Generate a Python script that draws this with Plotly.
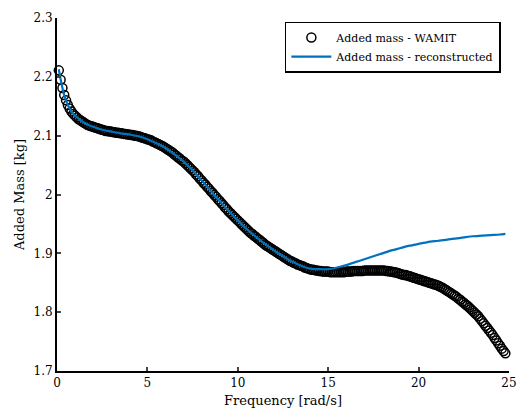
import plotly.graph_objects as go

# WAMIT added mass (open circles), frequency in rad/s
freq_wamit = [
    0.1, 0.2, 0.3, 0.4, 0.5, 0.6, 0.7, 0.8, 0.9, 1.0,
    1.1, 1.2, 1.3, 1.4, 1.5, 1.6, 1.7, 1.8, 1.9, 2.0,
    2.1, 2.2, 2.3, 2.4, 2.5, 2.6, 2.7, 2.8, 2.9, 3.0,
    3.1, 3.2, 3.3, 3.4, 3.5, 3.6, 3.7, 3.8, 3.9, 4.0,
    4.1, 4.2, 4.3, 4.4, 4.5, 4.6, 4.7, 4.8, 4.9, 5.0,
    5.1, 5.2, 5.3, 5.4, 5.5, 5.6, 5.7, 5.8, 5.9, 6.0,
    6.1, 6.2, 6.3, 6.4, 6.5, 6.6, 6.7, 6.8, 6.9, 7.0,
    7.1, 7.2, 7.3, 7.4, 7.5, 7.6, 7.7, 7.8, 7.9, 8.0,
    8.1, 8.2, 8.3, 8.4, 8.5, 8.6, 8.7, 8.8, 8.9, 9.0,
    9.1, 9.2, 9.3, 9.4, 9.5, 9.6, 9.7, 9.8, 9.9, 10.0,
    10.1, 10.2, 10.3, 10.4, 10.5, 10.6, 10.7, 10.8, 10.9, 11.0,
    11.1, 11.2, 11.3, 11.4, 11.5, 11.6, 11.7, 11.8, 11.9, 12.0,
    12.1, 12.2, 12.3, 12.4, 12.5, 12.6, 12.7, 12.8, 12.9, 13.0,
    13.1, 13.2, 13.3, 13.4, 13.5, 13.6, 13.7, 13.8, 13.9, 14.0,
    14.1, 14.2, 14.3, 14.4, 14.5, 14.6, 14.7, 14.8, 14.9, 15.0,
    15.1, 15.2, 15.3, 15.4, 15.5, 15.6, 15.7, 15.8, 15.9, 16.0,
    16.1, 16.2, 16.3, 16.4, 16.5, 16.6, 16.7, 16.8, 16.9, 17.0,
    17.1, 17.2, 17.3, 17.4, 17.5, 17.6, 17.7, 17.8, 17.9, 18.0,
    18.1, 18.2, 18.3, 18.4, 18.5, 18.6, 18.7, 18.8, 18.9, 19.0,
    19.1, 19.2, 19.3, 19.4, 19.5, 19.6, 19.7, 19.8, 19.9, 20.0,
    20.1, 20.2, 20.3, 20.4, 20.5, 20.6, 20.7, 20.8, 20.9, 21.0,
    21.1, 21.2, 21.3, 21.4, 21.5, 21.6, 21.7, 21.8, 21.9, 22.0,
    22.1, 22.2, 22.3, 22.4, 22.5, 22.6, 22.7, 22.8, 22.9, 23.0,
    23.1, 23.2, 23.3, 23.4, 23.5, 23.6, 23.7, 23.8, 23.9, 24.0,
    24.1, 24.2, 24.3, 24.4, 24.5, 24.6, 24.7, 24.8,
]
mass_wamit = [
    2.211, 2.195, 2.181, 2.169, 2.160, 2.152, 2.146, 2.141, 2.137, 2.134,
    2.131, 2.128, 2.126, 2.124, 2.122, 2.120, 2.118, 2.117, 2.116, 2.115,
    2.114, 2.113, 2.112, 2.111, 2.110, 2.109, 2.108, 2.108, 2.107, 2.107,
    2.106, 2.106, 2.105, 2.105, 2.104, 2.104, 2.103, 2.103, 2.102, 2.102,
    2.101, 2.101, 2.100, 2.100, 2.099, 2.098, 2.097, 2.096, 2.095, 2.094,
    2.093, 2.092, 2.090, 2.089, 2.087, 2.086, 2.084, 2.083, 2.081, 2.079,
    2.077, 2.075, 2.073, 2.071, 2.068, 2.066, 2.063, 2.061, 2.058, 2.056,
    2.053, 2.050, 2.047, 2.044, 2.041, 2.038, 2.034, 2.031, 2.027, 2.024,
    2.020, 2.017, 2.013, 2.010, 2.006, 2.003, 1.999, 1.996, 1.992, 1.989,
    1.985, 1.982, 1.978, 1.975, 1.971, 1.968, 1.965, 1.962, 1.959, 1.956,
    1.953, 1.950, 1.947, 1.944, 1.941, 1.938, 1.935, 1.933, 1.930, 1.928,
    1.925, 1.923, 1.920, 1.918, 1.915, 1.913, 1.911, 1.909, 1.907, 1.905,
    1.903, 1.901, 1.899, 1.897, 1.895, 1.893, 1.891, 1.889, 1.887, 1.886,
    1.884, 1.883, 1.881, 1.880, 1.879, 1.878, 1.876, 1.875, 1.874, 1.873,
    1.872, 1.872, 1.871, 1.871, 1.870, 1.870, 1.869, 1.869, 1.869, 1.869,
    1.868, 1.868, 1.868, 1.868, 1.868, 1.868, 1.868, 1.868, 1.868, 1.869,
    1.869, 1.869, 1.869, 1.870, 1.870, 1.870, 1.870, 1.870, 1.870, 1.871,
    1.871, 1.871, 1.871, 1.871, 1.871, 1.871, 1.871, 1.871, 1.871, 1.871,
    1.871, 1.870, 1.870, 1.869, 1.869, 1.868, 1.868, 1.867, 1.866, 1.865,
    1.864, 1.863, 1.863, 1.862, 1.861, 1.860, 1.859, 1.858, 1.857, 1.856,
    1.855, 1.854, 1.853, 1.852, 1.851, 1.850, 1.849, 1.848, 1.847, 1.846,
    1.845, 1.843, 1.842, 1.840, 1.838, 1.836, 1.834, 1.832, 1.830, 1.828,
    1.826, 1.823, 1.821, 1.818, 1.816, 1.813, 1.811, 1.808, 1.805, 1.802,
    1.799, 1.796, 1.793, 1.789, 1.785, 1.781, 1.777, 1.773, 1.769, 1.765,
    1.761, 1.756, 1.752, 1.747, 1.743, 1.738, 1.734, 1.730,
]

# Reconstructed added mass (line)
freq_recon = [0.1, 0.2, 0.3, 0.4, 0.6, 0.8, 1.0, 1.5, 2.0, 2.5, 3.0, 3.5, 4.0, 4.5,
              5.0, 5.5, 6.0, 6.5, 7.0, 7.5, 8.0, 8.5, 9.0, 9.5, 10.0, 10.5,
              11.0, 11.5, 12.0, 12.5, 13.0, 13.5, 14.0, 14.5, 15.0, 15.5,
              16.0, 16.5, 17.0, 17.5, 18.0, 18.5, 19.0, 19.5, 20.0, 20.5,
              21.0, 21.5, 22.0, 22.5, 23.0, 23.5, 24.0, 24.5, 24.8]
mass_recon = [2.213, 2.196, 2.181, 2.169, 2.152, 2.141, 2.134, 2.122, 2.115, 2.110,
              2.107, 2.104, 2.102, 2.099, 2.094, 2.087, 2.079, 2.068, 2.056, 2.041,
              2.024, 2.006, 1.989, 1.972, 1.956, 1.941, 1.928, 1.916, 1.905, 1.895,
              1.886, 1.879, 1.874, 1.873, 1.873, 1.876, 1.880, 1.885, 1.890, 1.895,
              1.900, 1.905, 1.909, 1.913, 1.916, 1.919, 1.921, 1.923, 1.925, 1.927,
              1.929, 1.930, 1.931, 1.932, 1.933]

x_ticks = [0, 5, 10, 15, 20, 25]
y_ticks = [1.7, 1.8, 1.9, 2.0, 2.1, 2.2, 2.3]
y_tick_text = ["1.7", "1.8", "1.9", "2", "2.1", "2.2", "2.3"]

FONT = "DejaVu Serif"

fig = go.Figure()
fig.add_trace(go.Scatter(
    x=freq_wamit, y=mass_wamit, mode="markers", name="Added mass - WAMIT",
    marker=dict(symbol="circle-open", size=9, color="black", line=dict(width=1.5, color="black")),
    cliponaxis=False,
))
fig.add_trace(go.Scatter(
    x=freq_recon, y=mass_recon, mode="lines", name="Added mass - reconstructed",
    line=dict(color="#0072BD", width=2.2, shape="spline", smoothing=0.6),
    cliponaxis=False,
))

fig.update_layout(
    width=528, height=418,
    margin=dict(l=57, r=15, t=11, b=47),
    plot_bgcolor="white", paper_bgcolor="white",
    font=dict(family=FONT, size=12, color="black"),
    showlegend=True,
    legend=dict(
        x=0.982, y=0.99, xanchor="right", yanchor="top",
        bgcolor="white", bordercolor="black", borderwidth=1.5,
        font=dict(family=FONT, size=11, color="black"),
        tracegroupgap=0, itemwidth=40,
    ),
)
fig.update_xaxes(
    range=[0, 25], tickvals=x_ticks, ticks="inside", ticklen=4, tickwidth=2,
    showline=True, linecolor="black", linewidth=2, showgrid=False, zeroline=False,
    title=dict(text="Frequency [rad/s]", font=dict(size=13), standoff=6),
    tickfont=dict(size=12),
)
fig.update_yaxes(
    range=[1.7, 2.3], tickvals=y_ticks, ticktext=y_tick_text, ticks="inside", ticklen=4, tickwidth=2,
    showline=True, linecolor="black", linewidth=2, showgrid=False, zeroline=False,
    title=dict(text="Added Mass [kg]", font=dict(size=13), standoff=6),
    tickfont=dict(size=12),
)

fig.write_html("out.html")
